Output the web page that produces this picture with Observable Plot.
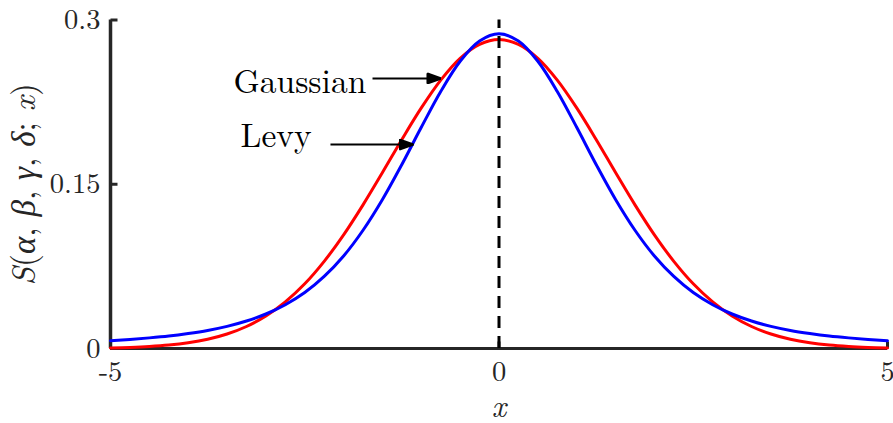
<!DOCTYPE html>
<html>
<head>
<meta charset="utf-8">
<script src="https://cdn.jsdelivr.net/npm/d3@7"></script>
<script src="https://cdn.jsdelivr.net/npm/@observablehq/plot@0.6"></script>
<style>
  html, body { margin: 0; padding: 0; background: #fff; }
</style>
</head>
<body>
<div id="chart"></div>
<script>
// Sample points of the two densities
const xGrid = [-5, -4.75, -4.5, -4.25, -4, -3.75, -3.5, -3.25, -3, -2.75, -2.5, -2.25, -2, -1.75, -1.5, -1.25, -1, -0.75, -0.5, -0.25,
  0, 0.25, 0.5, 0.75, 1, 1.25, 1.5, 1.75, 2, 2.25, 2.5, 2.75, 3, 3.25, 3.5, 3.75, 4, 4.25, 4.5, 4.75, 5];

const gaussian = [0.0005, 0.0010, 0.0018, 0.0031, 0.0052, 0.0084, 0.0132, 0.0201, 0.0297, 0.0426, 0.0591, 0.0796, 0.1038, 0.1312, 0.1607, 0.1909, 0.2197, 0.2451, 0.2650, 0.2777,
  0.2821, 0.2777, 0.2650, 0.2451, 0.2197, 0.1909, 0.1607, 0.1312, 0.1038, 0.0796, 0.0591, 0.0426, 0.0297, 0.0201, 0.0132, 0.0084, 0.0052, 0.0031, 0.0018, 0.0010, 0.0005];

const levy = [0.0071, 0.0083, 0.0097, 0.0114, 0.0137, 0.0165, 0.0202, 0.0251, 0.0315, 0.0400, 0.0511, 0.0658, 0.0845, 0.1080, 0.1361, 0.1681, 0.2020, 0.2347, 0.2623, 0.2808,
  0.2874, 0.2808, 0.2623, 0.2347, 0.2020, 0.1681, 0.1361, 0.1080, 0.0845, 0.0658, 0.0511, 0.0400, 0.0315, 0.0251, 0.0202, 0.0165, 0.0137, 0.0114, 0.0097, 0.0083, 0.0071];

const xTicks = [-5, 0, 5];
const xTickLabels = ["-5", "0", "5"];
const yTicks = [0, 0.15, 0.3];
const yTickLabels = ["0", "0.15", "0.3"];

const gaussRows = xGrid.map((x, i) => ({x, y: gaussian[i]}));
const levyRows = xGrid.map((x, i) => ({x, y: levy[i]}));

const axisColor = "#262626";
const fontStack = "'Latin Modern Roman', 'Liberation Serif', serif";

// short inward tick marks drawn as custom dot symbols
const tickUp = {draw(ctx) { ctx.moveTo(0, 0); ctx.lineTo(0, -7); }};
const tickRight = {draw(ctx) { ctx.moveTo(0, 0); ctx.lineTo(7, 0); }};

// filled triangular arrow head
function filledHead(color) {
  const ns = "http://www.w3.org/2000/svg";
  const m = document.createElementNS(ns, "marker");
  m.setAttribute("viewBox", "-12 -6 15 12");
  m.setAttribute("markerWidth", 15);
  m.setAttribute("markerHeight", 12);
  m.setAttribute("markerUnits", "userSpaceOnUse");
  m.setAttribute("orient", "auto");
  m.setAttribute("refX", 0);
  m.setAttribute("refY", 0);
  const p = document.createElementNS(ns, "path");
  p.setAttribute("d", "M-11,-5L3,0L-11,5Z");
  p.setAttribute("fill", color);
  m.appendChild(p);
  return m;
}

const yLabel = "S(α, β, γ, δ; x)";

const chart = Plot.plot({
  width: 893,
  height: 423,
  marginLeft: 110,
  marginRight: 6,
  marginTop: 19.5,
  marginBottom: 75,
  style: {fontFamily: fontStack, fontSize: "28.5px", color: axisColor, background: "white", overflow: "visible"},
  x: {domain: [-5, 5]},
  y: {domain: [0, 0.3]},
  marks: [
    Plot.axisX(xTicks, {tickSize: 0, tickPadding: 12, tickFormat: d => xTickLabels[xTicks.indexOf(d)], label: null, fill: axisColor}),
    Plot.axisY(yTicks, {tickSize: 0, tickPadding: 10, tickFormat: d => yTickLabels[yTicks.indexOf(d)], label: null, fill: axisColor}),
    // axis lines
    Plot.ruleY([0], {x1: -5, x2: 5, stroke: axisColor, strokeWidth: 3}),
    Plot.ruleX([-5], {y1: 0, y2: 0.3, stroke: axisColor, strokeWidth: 3.5}),
    Plot.dot(xTicks, {x: d => d, y: 0, symbol: tickUp, stroke: axisColor, strokeWidth: 3, fill: "none"}),
    Plot.dot(yTicks, {x: -5, y: d => d, symbol: tickRight, stroke: axisColor, strokeWidth: 3, fill: "none"}),
    // densities
    Plot.line(gaussRows, {x: "x", y: "y", stroke: "#ff0000", strokeWidth: 3, curve: "catmull-rom"}),
    Plot.line(levyRows, {x: "x", y: "y", stroke: "#0000ff", strokeWidth: 3, curve: "catmull-rom"}),
    // centre line
    Plot.ruleX([0], {y1: 0, y2: 0.3, stroke: "black", strokeWidth: 3, strokeDasharray: "12,8"}),
    // annotations
    Plot.text(["Gaussian"], {x: -3.417, y: 0.2333, textAnchor: "start", lineAnchor: "bottom", fontSize: 33.5, fill: "black"}),
    Plot.text(["Levy"], {x: -3.327, y: 0.1836, textAnchor: "start", lineAnchor: "bottom", fontSize: 33.5, fill: "black"}),
    Plot.link([0], {x1: -1.628, y1: 0.2466, x2: -0.779, y2: 0.2466, stroke: "black", strokeWidth: 2, markerEnd: filledHead}),
    Plot.link([0], {x1: -2.169, y1: 0.1863, x2: -1.139, y2: 0.1863, stroke: "black", strokeWidth: 2, markerEnd: filledHead}),
    // axis titles
    Plot.text(["x"], {frameAnchor: "bottom", dy: 68, lineAnchor: "bottom", fontSize: 31, fontStyle: "italic", fill: axisColor}),
    Plot.text([yLabel], {frameAnchor: "left", dx: -86, rotate: -90, textAnchor: "middle", fontSize: 33, fill: axisColor})
  ]
});

// typeset the y title with italic symbols and upright punctuation
chart.querySelectorAll("text").forEach(t => {
  if (t.textContent === yLabel) {
    const ns = "http://www.w3.org/2000/svg";
    const parts = [["S", 1], ["(", 0], ["α", 1], [", ", 0], ["β", 1], [", ", 0], ["γ", 1], [", ", 0], ["δ", 1], ["; ", 0], ["x", 1], [")", 0]];
    t.textContent = "";
    for (const [s, it] of parts) {
      const sp = document.createElementNS(ns, "tspan");
      sp.textContent = s;
      if (it) sp.setAttribute("font-style", "italic");
      t.appendChild(sp);
    }
  }
});

// set the serif face on every text element directly
chart.setAttribute("font-family", fontStack);
chart.querySelectorAll("text, tspan").forEach(t => {
  t.setAttribute("font-family", fontStack);
  t.style.fontFamily = fontStack;
});

document.getElementById("chart").appendChild(chart);
</script>
</body>
</html>
